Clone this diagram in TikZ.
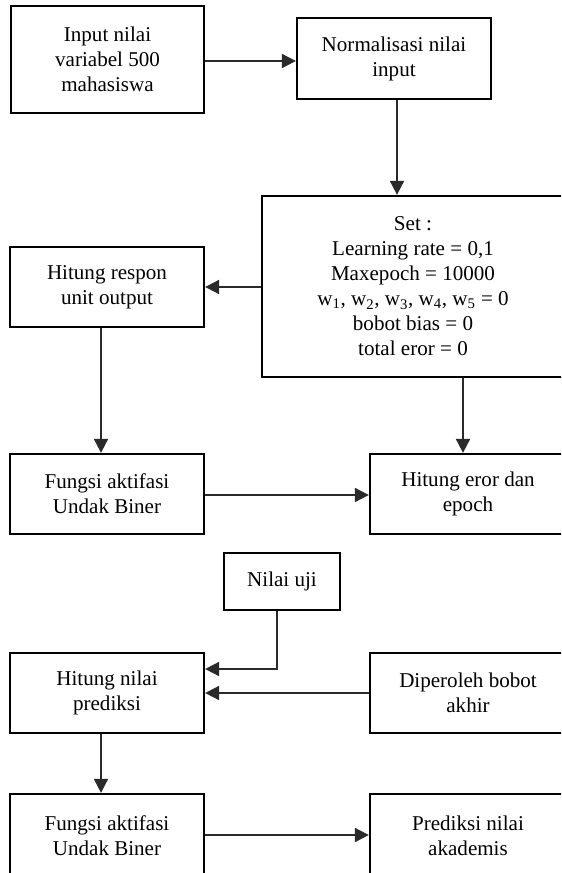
\documentclass[tikz,border=0pt]{standalone}
\usepackage{fontspec}
\setmainfont{Liberation Serif}
\usetikzlibrary{arrows.meta,calc}
\definecolor{linegray}{HTML}{2A2A2A}
\begin{document}
\begin{tikzpicture}[x=0.75pt,y=-0.75pt,
  box/.style={draw=black,line width=1.7pt,rectangle,align=center,inner sep=0pt,
    font=\fontsize{15.8}{18.75}\selectfont},
  arr/.style={draw=linegray,line width=1.4pt,-{Triangle[length=10.5pt,width=10.5pt]}},
  ln/.style={draw=linegray,line width=1.4pt}]
\useasboundingbox (0,0) rectangle (561,873);
\clip (0,0) rectangle (561,873);
\node[box,minimum width=193*0.75pt,minimum height=107*0.75pt] (in1) at (107.5,59.5) {Input nilai\\variabel 500\\mahasiswa};
\node[box,minimum width=194*0.75pt,minimum height=81*0.75pt] (norm) at (394,58.5) {Normalisasi nilai\\input};
\node[box,minimum width=302*0.75pt,minimum height=181*0.75pt] (set) at (413,286.5) {Set :\\Learning rate = 0,1\\Maxepoch = 10000\\w\textsubscript{1}, w\textsubscript{2}, w\textsubscript{3}, w\textsubscript{4}, w\textsubscript{5} = 0\\bobot bias = 0\\total eror = 0};
\node[box,minimum width=194*0.75pt,minimum height=80*0.75pt] (hr) at (107,287) {Hitung respon\\unit output};
\node[box,minimum width=194*0.75pt,minimum height=80*0.75pt] (f1) at (107,494) {Fungsi aktifasi\\Undak Biner};
\node[box,minimum width=196*0.75pt,minimum height=80*0.75pt] (he) at (468,494) {Hitung eror dan\\epoch};
\node[box,minimum width=116*0.75pt,minimum height=57*0.75pt] (nu) at (282,581.5) {Nilai uji};
\node[box,minimum width=194*0.75pt,minimum height=80*0.75pt] (hn) at (107,693) {Hitung nilai\\prediksi};
\node[box,minimum width=196*0.75pt,minimum height=80*0.75pt] (db) at (468,693) {Diperoleh bobot\\akhir};
\node[box,minimum width=194*0.75pt,minimum height=84*0.75pt] (f2) at (107,836) {Fungsi aktifasi\\Undak Biner};
\node[box,minimum width=196*0.75pt,minimum height=84*0.75pt] (pn) at (468,836) {Prediksi nilai\\akademis};
% connectors
\draw[arr] ($(in1.east)+(0,1.5)$) -- ($(in1.east -| norm.west)+(0,1.5)$);
\coordinate (c0) at ($(norm.south)+(3,0)$);
\draw[arr] (c0) -- (c0 |- set.north);
\draw[arr] (hr.east -| set.west) -- (hr.east);
\coordinate (c1) at ($(hr.south)+(-6,0)$);
\draw[arr] (c1) -- (c1 |- f1.north);
\coordinate (c2) at ($(he.north)+(-5,0)$);
\draw[arr] (c2 |- set.south) -- (c2);
\draw[arr] ($(f1.east)+(0,1)$) -- ($(f1.east -| he.west)+(0,1)$);
\coordinate (c3) at ($(nu.south)+(-5,0)$);
\coordinate (c4) at ($(hn.east)+(0,-24)$);
\draw[ln] (c3) |- ($(c4)+(8,0)$);
\draw[arr] ($(c4)+(8,0)$) -- (c4);
\draw[arr] (db.west) -- (hn.east);
\coordinate (c5) at ($(hn.south)+(-6,0)$);
\draw[arr] (c5) -- (c5 |- f2.north);
\draw[arr] ($(f2.east)+(0,-1)$) -- ($(f2.east -| pn.west)+(0,-1)$);
\end{tikzpicture}
\end{document}
